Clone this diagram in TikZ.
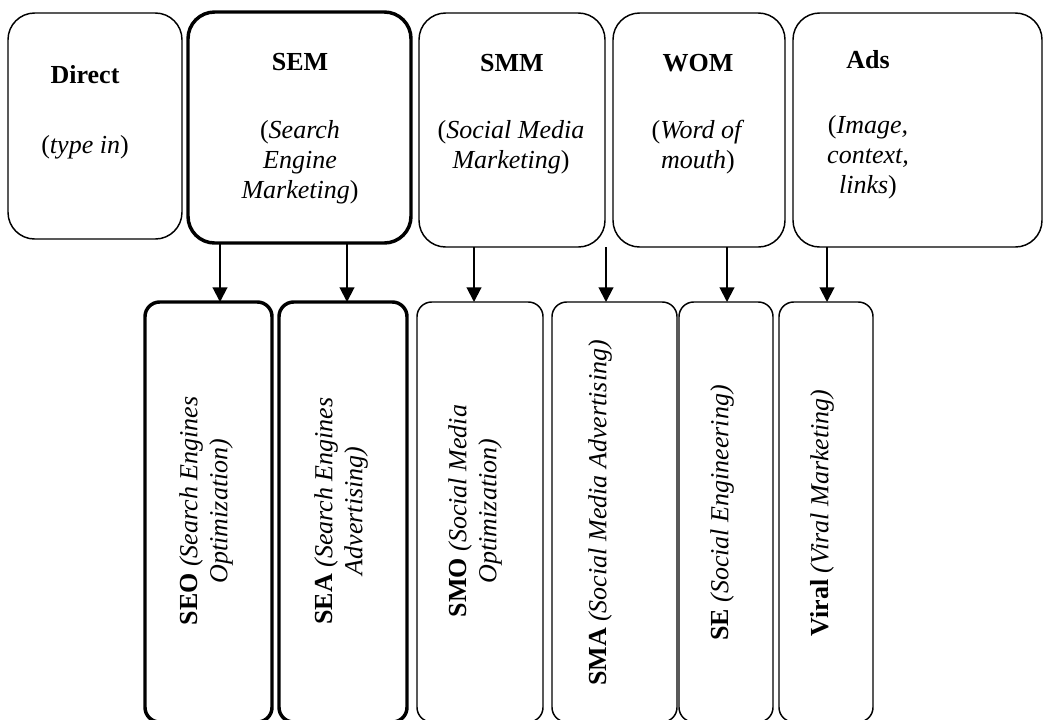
\documentclass[tikz,border=0pt]{standalone}
\usepackage{fontspec}
\setmainfont{Liberation Serif}
\usetikzlibrary{arrows.meta}
\begin{document}
\begin{tikzpicture}[x=0.75pt,y=-0.75pt,
  topbox/.style={draw, rounded corners=20pt, line width=1.1pt, inner sep=0pt, outer sep=0pt},
  botbox/.style={draw, rounded corners=11pt, line width=1.1pt, inner sep=0pt, outer sep=0pt, minimum height=315pt},
  heavy/.style={line width=2.6pt},
  lbl/.style={inner sep=0pt, align=center, font=\fontsize{19.5}{22.5}\selectfont},
  vlbl/.style={lbl, rotate=90},
  arr/.style={line width=1.5pt, -{Triangle[width=11pt,length=11pt]}}]
\useasboundingbox (0,0) rectangle (1045,719);
% top boxes
\node[topbox, minimum width=130.5pt, minimum height=169.5pt] (direct) at (95,126) {};
\node[topbox, heavy, minimum width=167.25pt, minimum height=173.25pt] (sem) at (299.5,127.5) {};
\node[topbox, minimum width=139.5pt, minimum height=175.5pt] (smm) at (512,130) {};
\node[topbox, minimum width=129pt, minimum height=175.5pt] (wom) at (699,130) {};
\node[topbox, minimum width=186.75pt, minimum height=175.5pt] (ads) at (917.5,130) {};
% top texts
\node[lbl] (tdirect) at (85,75) {\textbf{Direct}};
\node[lbl] (sdirect) at (85,147) {(\textit{type in})};
\node[lbl] (tsem) at (300,62) {\textbf{SEM}};
\node[lbl] (ssem) at (300,162) {(\textit{Search}\\\textit{Engine}\\\textit{Marketing})};
\node[lbl] (tsmm) at (512,63) {\textbf{SMM}};
\node[lbl] (ssmm) at (511,147) {(\textit{Social Media}\\\textit{Marketing})};
\node[lbl] (twom) at (698,63) {\textbf{WOM}};
\node[lbl] (swom) at (698,147) {(\textit{Word of}\\\textit{mouth})};
\node[lbl] (tads) at (868,60) {\textbf{Ads}};
\node[lbl] (sads) at (868,157) {(\textit{Image,}\\\textit{context,}\\\textit{links})};
% bottom boxes
\node[botbox, heavy, minimum width=95.25pt] (seo) at (208.5,512) {};
\node[botbox, heavy, minimum width=96pt] (sea) at (343,512) {};
\node[botbox, minimum width=94.5pt] (smo) at (480,512) {};
\node[botbox, minimum width=93.75pt] (sma) at (614.5,512) {};
\node[botbox, minimum width=70.5pt] (se) at (726,512) {};
\node[botbox, minimum width=70.5pt] (viral) at (826,512) {};
% bottom texts
\node[vlbl] (lseo) at (206,511) {\textbf{SEO} \textit{(Search Engines}\\\textit{Optimization)}};
\node[vlbl] (lsea) at (341,511) {\textbf{SEA} \textit{(Search Engines}\\\textit{Advertising)}};
\node[vlbl] (lsmo) at (475,511) {\textbf{SMO} \textit{(Social Media}\\\textit{Optimization)}};
\node[vlbl] (lsma) at (600,513) {\textbf{SMA} \textit{(Social Media Advertising)}};
\node[vlbl] (lse) at (722,513) {\textbf{SE} \textit{(Social Engineering)}};
\node[vlbl] (lviral) at (822,513) {\textbf{Viral} \textit{(Viral Marketing)}};
% arrow columns
\coordinate (c1) at (220,0);
\coordinate (c2) at (347,0);
\coordinate (c3) at (474,0);
\coordinate (c4) at (606,0);
\coordinate (c5) at (727,0);
\coordinate (c6) at (827,0);
\draw[arr] (sem.south -| c1) -- (seo.north -| c1);
\draw[arr] (sem.south -| c2) -- (sea.north -| c2);
\draw[arr] (smm.south -| c3) -- (smo.north -| c3);
\draw[arr] (smm.south -| c4) -- (sma.north -| c4);
\draw[arr] (wom.south -| c5) -- (se.north -| c5);
\draw[arr] (wom.south -| c6) -- (viral.north -| c6);
\end{tikzpicture}
\end{document}
